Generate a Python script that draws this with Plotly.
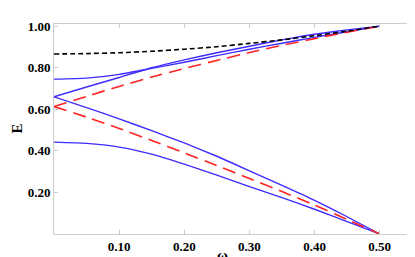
import plotly.graph_objects as go

# x grid (omega_r)
omega = [0.0, 0.05, 0.10, 0.15, 0.20, 0.25, 0.30, 0.35, 0.40, 0.45, 0.50]

# black short-dashed curve
black_dash = [0.866, 0.868, 0.872, 0.879, 0.889, 0.901, 0.917, 0.934, 0.954, 0.976, 1.000]

# blue solid curves
blue_a = [0.660, 0.707, 0.753, 0.800, 0.838, 0.872, 0.903, 0.934, 0.961, 0.982, 1.000]
blue_b = [0.745, 0.750, 0.768, 0.797, 0.826, 0.858, 0.889, 0.918, 0.946, 0.973, 1.000]
blue_c = [0.660, 0.608, 0.554, 0.497, 0.438, 0.374, 0.304, 0.234, 0.162, 0.083, 0.000]
blue_d = [0.442, 0.436, 0.418, 0.384, 0.336, 0.283, 0.228, 0.175, 0.119, 0.060, 0.000]

# red long-dashed curves
red_up = [0.613, 0.662, 0.710, 0.755, 0.796, 0.835, 0.873, 0.908, 0.940, 0.971, 1.000]
red_dn = [0.613, 0.562, 0.508, 0.450, 0.390, 0.329, 0.267, 0.204, 0.139, 0.070, 0.000]

x_ticks = [0.1, 0.2, 0.3, 0.4, 0.5]
y_ticks = [0.2, 0.4, 0.6, 0.8, 1.0]

BLUE = "#3f2cff"
RED = "#ff2424"

fig = go.Figure()
for ys in (blue_a, blue_b, blue_c, blue_d):
    fig.add_trace(go.Scatter(x=omega, y=ys, mode="lines",
                             line=dict(color=BLUE, width=1.4, shape="spline", smoothing=0.5)))
for ys in (red_up, red_dn):
    fig.add_trace(go.Scatter(x=omega, y=ys, mode="lines",
                             line=dict(color=RED, width=1.6, dash="13px,7px", shape="spline", smoothing=0.5)))
fig.add_trace(go.Scatter(x=omega, y=black_dash, mode="lines",
                         line=dict(color="black", width=1.6, dash="5px,3px", shape="spline", smoothing=0.5)))

tickfont = dict(family="Liberation Serif", size=13, color="black", weight="bold")
axis_common = dict(showgrid=False, zeroline=False, showline=True, linecolor="#cccccc", linewidth=1,
                   mirror="ticks", ticks="inside", ticklen=4, tickcolor="#cccccc",
                   tickfont=tickfont, tickformat=".2f")

fig.update_layout(
    width=415, height=257,
    margin=dict(l=46, r=11, t=12, b=24),
    plot_bgcolor="white", paper_bgcolor="white",
    showlegend=False,
    xaxis=dict(range=[0, 0.548], tickvals=x_ticks, **axis_common),
    yaxis=dict(range=[0, 1.0103], tickvals=y_ticks, **axis_common),
    annotations=[
        dict(text="E", xref="paper", yref="paper", x=-0.105, y=0.5,
             xanchor="center", yanchor="middle", textangle=-90, showarrow=False,
             font=dict(family="Liberation Serif", size=15, color="black", weight="bold")),
        dict(text="ω<sub>r</sub>", xref="paper", yref="paper", x=0.48, y=-0.105,
             xanchor="center", yanchor="middle", showarrow=False,
             font=dict(family="Liberation Serif", size=15, color="black", weight="bold")),
    ],
)

fig.write_html("out.html")
